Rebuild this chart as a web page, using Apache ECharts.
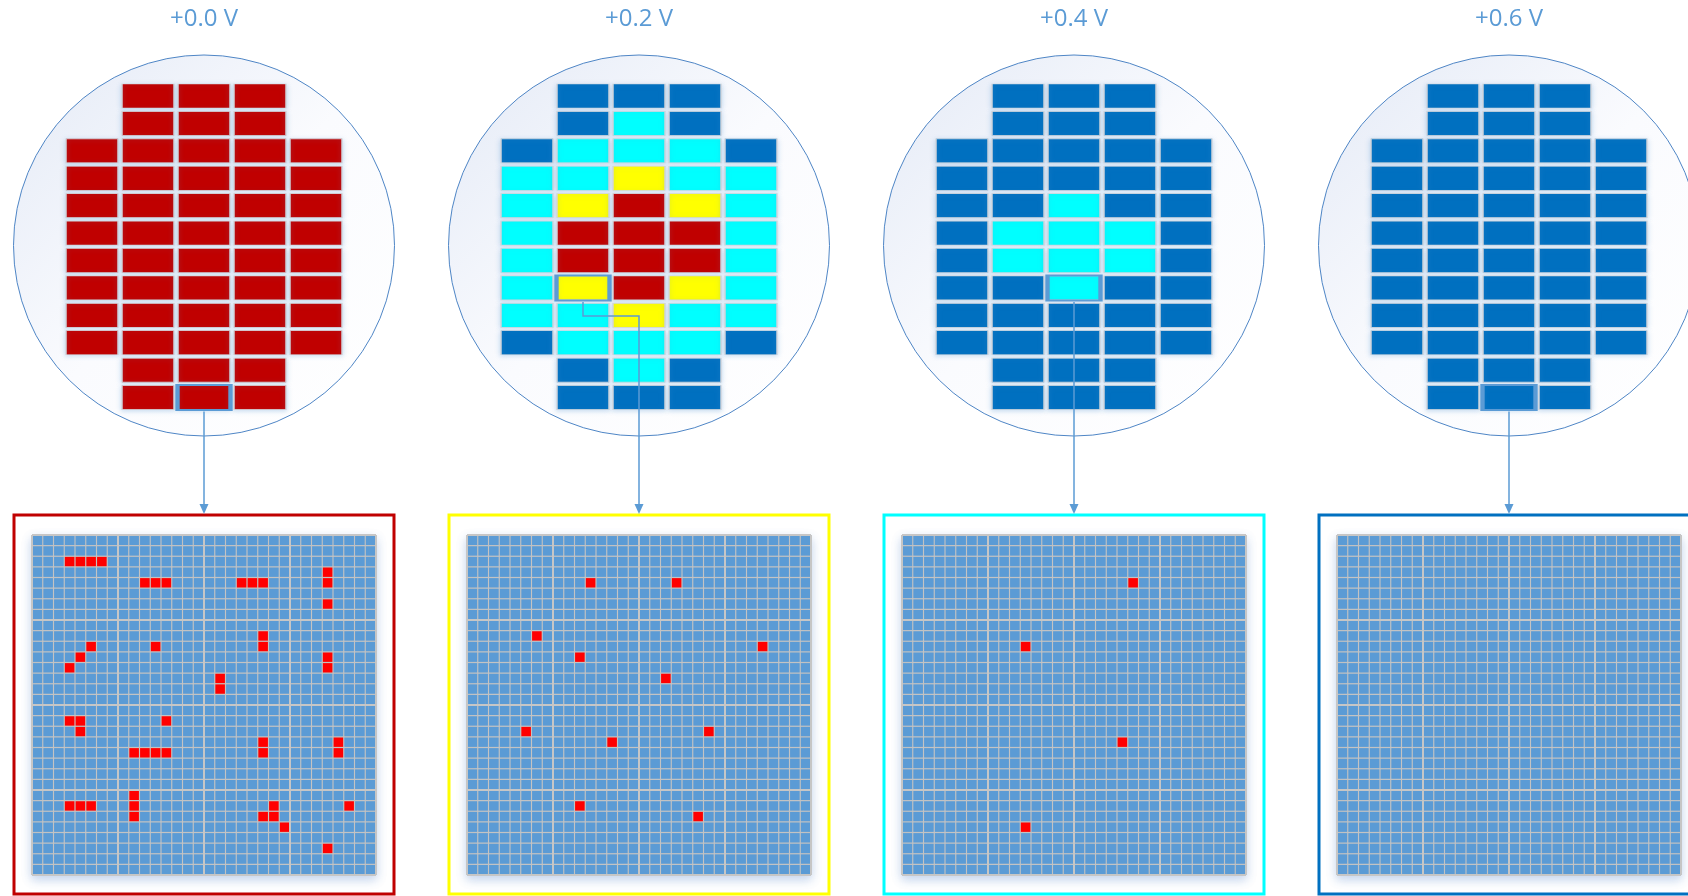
<!DOCTYPE html>
<html><head><meta charset="utf-8">
<script src="https://cdn.jsdelivr.net/npm/echarts@6/dist/echarts.min.js"></script>
<style>html,body{margin:0;padding:0;background:#fff}#c{width:1688px;height:896px}</style>
</head><body><div id="c"></div><script>
// ---- data ----
const voltages = ['+0.0 V', '+0.2 V', '+0.4 V', '+0.6 V'];
// die map codes per row (top to bottom), 5 columns: 0 = no die, 1 = pass, 2 = few fails, 3 = more fails, 4 = many fails
const wafer0 = [
  [0,4,4,4,0],[0,4,4,4,0],[4,4,4,4,4],[4,4,4,4,4],[4,4,4,4,4],[4,4,4,4,4],
  [4,4,4,4,4],[4,4,4,4,4],[4,4,4,4,4],[4,4,4,4,4],[0,4,4,4,0],[0,4,4,4,0]];
const wafer1 = [
  [0,1,1,1,0],[0,1,2,1,0],[1,2,2,2,1],[2,2,3,2,2],[2,3,4,3,2],[2,4,4,4,2],
  [2,4,4,4,2],[2,3,4,3,2],[2,2,3,2,2],[1,2,2,2,1],[0,1,2,1,0],[0,1,1,1,0]];
const wafer2 = [
  [0,1,1,1,0],[0,1,1,1,0],[1,1,1,1,1],[1,1,1,1,1],[1,1,2,1,1],[1,2,2,2,1],
  [1,2,2,2,1],[1,1,2,1,1],[1,1,1,1,1],[1,1,1,1,1],[0,1,1,1,0],[0,1,1,1,0]];
const wafer3 = [
  [0,1,1,1,0],[0,1,1,1,0],[1,1,1,1,1],[1,1,1,1,1],[1,1,1,1,1],[1,1,1,1,1],
  [1,1,1,1,1],[1,1,1,1,1],[1,1,1,1,1],[1,1,1,1,1],[0,1,1,1,0],[0,1,1,1,0]];
// selected die [col,row] shown enlarged below
const selectedDies = [[2,11],[1,7],[2,7],[2,11]];
// failing bits in the 32x32 bitmap of the selected die, [col,row]
const failBits0 = [[3,2],[4,2],[5,2],[6,2],[10,4],[11,4],[12,4],[19,4],[20,4],[21,4],[27,3],[27,4],[27,6],
  [21,9],[21,10],[5,10],[11,10],[4,11],[27,11],[3,12],[27,12],[17,13],[17,14],[3,17],[4,17],[12,17],[4,18],
  [21,19],[28,19],[9,20],[10,20],[11,20],[12,20],[21,20],[28,20],[9,24],[3,25],[4,25],[5,25],[9,25],[22,25],
  [29,25],[9,26],[21,26],[22,26],[23,27],[27,29]];
const failBits1 = [[11,4],[19,4],[6,9],[27,10],[10,11],[18,13],[5,18],[22,18],[13,19],[10,25],[21,26]];
const failBits2 = [[21,4],[11,10],[20,19],[11,27]];
const failBits3 = [];
const bitmapSize = 32;
const dieCols = ['c0','c1','c2','c3','c4'];
const dieRows = ['r0','r1','r2','r3','r4','r5','r6','r7','r8','r9','r10','r11'];

// ---- styles ----
const levelColors = {1:'#0070c0', 2:'#00ffff', 3:'#ffff00', 4:'#c00000'};
const frameColors = ['#c00000', '#ffff00', '#00ffff', '#0070c0'];
const wafers = [wafer0, wafer1, wafer2, wafer3];
const fails = [failBits0, failBits1, failBits2, failBits3];
const accent = '#5b9bd5';
const panelStep = 435, panelX0 = 204;
const circleCY = 245.5, circleR = 190.5;
const frameTop = 515;

const chart = echarts.init(document.getElementById('c'), null, {renderer:'canvas'});
const grid = [], xAxis = [], yAxis = [], series = [];
const waferAxisIdx = [];
for (let p = 0; p < 4; p++) {
  const cx = panelX0 + panelStep * p;
  grid.push({left: cx - 140, top: 82.3, width: 280, height: 329, show: false});
  grid.push({left: cx - 172, top: 535, width: 344, height: 340, show: true,
    backgroundColor: '#c3c3c3', borderColor: '#c3c3c3', borderWidth: 1,
    shadowBlur: 10, shadowColor: 'rgba(80,130,200,0.35)', shadowOffsetY: 4});
  const wg = 2 * p, bg = 2 * p + 1;
  const wx = xAxis.length;
  xAxis.push({type: 'category', gridIndex: wg, data: dieCols, show: false});
  const wy = yAxis.length;
  yAxis.push({type: 'category', gridIndex: wg, data: dieRows, inverse: true, show: false});
  waferAxisIdx.push([wx, wy]);
  const bx = xAxis.length;
  xAxis.push({type: 'value', gridIndex: bg, min: 0, max: bitmapSize, show: false});
  const by = yAxis.length;
  yAxis.push({type: 'value', gridIndex: bg, min: 0, max: bitmapSize, inverse: true, show: false});
  xAxis.push({type: 'value', gridIndex: bg, min: 0, max: bitmapSize, interval: 8, position: 'top', z: 5,
    axisLine: {show: false}, axisTick: {show: false}, axisLabel: {show: false},
    splitLine: {show: true, lineStyle: {color: '#c6c6c6', width: 2}}});
  yAxis.push({type: 'value', gridIndex: bg, min: 0, max: bitmapSize, interval: 8, position: 'right', inverse: true, z: 5,
    axisLine: {show: false}, axisTick: {show: false}, axisLabel: {show: false},
    splitLine: {show: true, lineStyle: {color: '#c6c6c6', width: 2}}});

  const dies = [];
  wafers[p].forEach((row, r) => row.forEach((v, c) => {
    if (v > 0) dies.push({value: [c, r], itemStyle: {color: levelColors[v]}});
  }));
  series.push({type: 'scatter', xAxisIndex: wx, yAxisIndex: wy, symbol: 'rect', symbolSize: [52, 24],
    silent: true, z: 2,
    itemStyle: {opacity: 1, borderColor: '#d2d6dc', borderWidth: 1, shadowBlur: 5, shadowColor: 'rgba(91,155,213,0.35)', shadowOffsetY: 1},
    data: dies});
  series.push({type: 'scatter', xAxisIndex: wx, yAxisIndex: wy, symbol: 'rect', symbolSize: [53, 25],
    silent: true, z: 3,
    itemStyle: {color: 'rgba(0,0,0,0)', borderColor: accent, borderWidth: 3, opacity: 1},
    data: [selectedDies[p]]});

  const failSet = new Set(fails[p].map(d => d[0] + ',' + d[1]));
  const pass = [], fail = [];
  for (let r = 0; r < bitmapSize; r++) for (let c = 0; c < bitmapSize; c++) {
    (failSet.has(c + ',' + r) ? fail : pass).push([c + 0.5, r + 0.5]);
  }
  series.push({type: 'scatter', xAxisIndex: bx, yAxisIndex: by, symbol: 'rect', symbolSize: [9.6, 9.4],
    silent: true, z: 2, itemStyle: {color: '#5b9bd5', opacity: 1}, data: pass});
  series.push({type: 'scatter', xAxisIndex: bx, yAxisIndex: by, symbol: 'rect', symbolSize: [9.6, 9.4],
    silent: true, z: 3, itemStyle: {color: '#ff0000', opacity: 1}, data: fail});
}

chart.setOption({animation: false, backgroundColor: '#ffffff', grid, xAxis, yAxis, series});

const graphics = [];
for (let p = 0; p < 4; p++) {
  const cx = panelX0 + panelStep * p;
  graphics.push({type: 'circle', z: -1, silent: true, shape: {cx: cx, cy: circleCY, r: circleR},
    style: {fill: new echarts.graphic.LinearGradient(0, 0, 1, 1, [
      {offset: 0, color: '#e4eaf6'}, {offset: 0.5, color: '#fafbfe'}, {offset: 1, color: '#ffffff'}]),
      stroke: '#4f86c6', lineWidth: 1}});
  graphics.push({type: 'rect', z: 1, silent: true, shape: {x: cx - 190, y: frameTop, width: 380, height: 379},
    style: {fill: null, stroke: frameColors[p], lineWidth: 3}});
  graphics.push({type: 'text', z: 10, silent: true, x: cx, y: 19,
    style: {text: voltages[p], fill: accent, font: '24px "Open Sans"', align: 'center', verticalAlign: 'middle'}});
  let pt = chart.convertToPixel({xAxisIndex: waferAxisIdx[p][0], yAxisIndex: waferAxisIdx[p][1]}, selectedDies[p]);
  if (!pt) pt = [cx, 400];
  const bottom = pt[1] + 14;
  graphics.push({type: 'polyline', z: 10, silent: true,
    shape: {points: [[pt[0], bottom], [pt[0], bottom + 14], [cx, bottom + 14], [cx, frameTop - 9]]},
    style: {stroke: accent, lineWidth: 1.5, fill: null}});
  graphics.push({type: 'polygon', z: 10, silent: true,
    shape: {points: [[cx - 4.5, frameTop - 11], [cx + 4.5, frameTop - 11], [cx, frameTop - 1]]},
    style: {fill: accent}});
}
chart.setOption({graphic: {elements: graphics}});
</script></body></html>
